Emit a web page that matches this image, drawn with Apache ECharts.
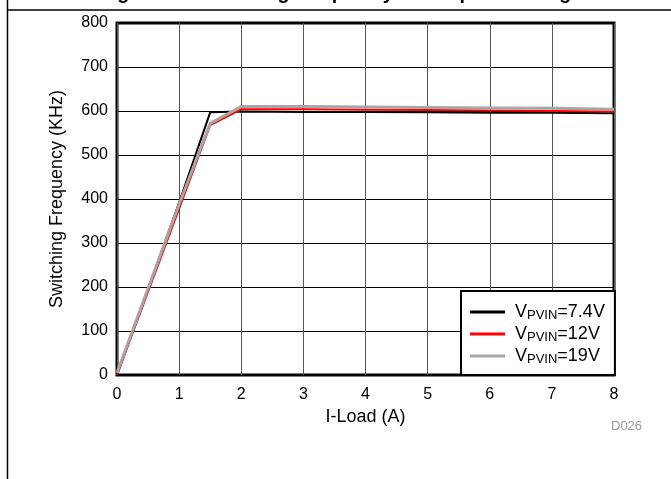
<!DOCTYPE html>
<html>
<head>
<meta charset="utf-8">
<script src="https://cdn.jsdelivr.net/npm/echarts@6/dist/echarts.min.js"></script>
<style>
html,body{margin:0;padding:0;background:#fff;}
#c{width:671px;height:479px;}
</style>
</head>
<body>
<div id="c"></div>
<script>
const loadA = [0, 1, 1.5, 2, 3, 4, 5, 6, 7, 8];
const freq74 = [0, 392, 597, 599, 598, 598, 597, 596, 596, 595];
const freq12 = [0, 378, 568, 604, 604, 603, 602, 601, 600, 599];
const freq19 = [5, 388, 572, 610, 610, 609, 608, 607, 606, 604];
const seriesNames = ['7.4V', '12V', '19V'];
const seriesColors = ['#000000', '#ff0000', '#a6a6a6'];
const seriesWidths = [2, 2, 3];
const xTicks = [0, 8, 1];
const yTicks = [0, 800, 100];
const titleText = 'Figure 26. Switching Frequency vs Output Loading';

const chart = echarts.init(document.getElementById('c'), null, {renderer: 'canvas'});
const font = 'Liberation Sans, Arial, sans-serif';
const dataSets = [freq74, freq12, freq19];

chart.setOption({
  animation: false,
  backgroundColor: '#fff',
  grid: {left: 117, top: 23, width: 497, height: 352, show: true, borderColor: '#000', borderWidth: 3, backgroundColor: 'transparent'},
  xAxis: {
    type: 'value', min: xTicks[0], max: xTicks[1], interval: xTicks[2],
    name: 'I-Load (A)', nameLocation: 'middle', nameGap: 26,
    nameTextStyle: {fontFamily: font, fontSize: 18, color: '#000'},
    axisLine: {show: false}, axisTick: {show: false},
    axisLabel: {fontFamily: font, fontSize: 16, color: '#000', margin: 12},
    splitLine: {show: true, lineStyle: {color: '#555', width: 1}}
  },
  yAxis: {
    type: 'value', min: yTicks[0], max: yTicks[1], interval: yTicks[2],
    name: 'Switching Frequency (KHz)', nameLocation: 'middle', nameGap: 51,
    nameTextStyle: {fontFamily: font, fontSize: 18, color: '#000'},
    axisLine: {show: false}, axisTick: {show: false},
    axisLabel: {fontFamily: font, fontSize: 16, color: '#000', margin: 9},
    splitLine: {show: true, lineStyle: {color: '#000', width: 1}}
  },
  legend: {
    orient: 'vertical', left: 461, top: 291,
    backgroundColor: '#fff', borderColor: '#000', borderWidth: 2,
    padding: [11, 10, 9, 9], itemGap: 2, itemWidth: 35, itemHeight: 3,
    icon: 'rect',
    data: seriesNames,
    formatter: function (n) { return '{v0|V}{s|PVIN}{v|=' + n + '}'; },
    textStyle: {
      fontFamily: font, color: '#000',
      rich: {
        v0: {fontFamily: font, fontSize: 18, color: '#000', lineHeight: 19, padding: [0, 0, 0, 5]},
        v: {fontFamily: font, fontSize: 18, color: '#000', lineHeight: 19},
        s: {fontFamily: font, fontSize: 13, color: '#000', lineHeight: 19, padding: [7, 0, 0, 0]}
      }
    }
  },
  series: seriesNames.map((n, i) => ({
    name: n, type: 'line', symbol: 'none', z: 2 + i,
    data: loadA.map((x, j) => [x, dataSets[i][j]]),
    lineStyle: {color: seriesColors[i], width: seriesWidths[i]},
    itemStyle: {color: seriesColors[i]}
  })),
  graphic: [
    {type: 'line', shape: {x1: 7, y1: 10, x2: 671, y2: 10}, style: {stroke: '#000', lineWidth: 1.5}},
    {type: 'line', shape: {x1: 7.5, y1: 0, x2: 7.5, y2: 479}, style: {stroke: '#000', lineWidth: 1.5}},
    {type: 'text', left: 'center', top: -16, style: {text: titleText, font: 'bold 19.5px ' + font, fill: '#000'}, z: -1},
    {type: 'text', x: 611, y: 420, style: {text: 'D026', font: '13px ' + font, fill: '#999'}}
  ]
});
</script>
</body>
</html>
